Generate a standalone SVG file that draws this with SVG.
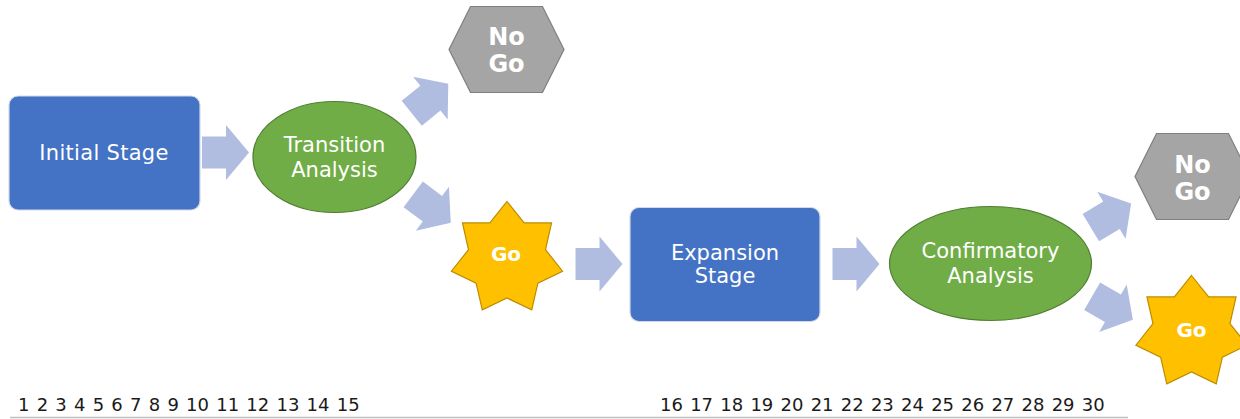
<svg xmlns="http://www.w3.org/2000/svg" width="1240" height="419" viewBox="0 0 1240 419">
  <style>
    .stage { fill: #4472C4; stroke: #D3D9E6; stroke-width: 1.2; }
    .analysis { fill: #70AD47; stroke: #507E32; stroke-width: 1.2; }
    .nogo { fill: #A5A5A5; stroke: #7F7F7F; stroke-width: 1.2; }
    .go { fill: #FFC000; stroke: #BC8C00; stroke-width: 1.2; }
    .flow { fill: #B0BDE0; }
    .label { fill: #FFFFFF; font-family: "DejaVu Sans", Verdana, sans-serif; font-size: 21px; text-anchor: middle; }
    .bold { fill: #FFFFFF; font-family: "DejaVu Sans", Verdana, sans-serif; font-weight: bold; text-anchor: middle; }
    .nums { fill: #1A1A1A; font-family: "DejaVu Sans", Verdana, sans-serif; font-size: 18px; word-spacing: 1.5px; }
  </style>
  <defs>
    <!-- block arrow pointing right, centred on the origin -->
    <path id="blockArrow" d="M-23.5,-16 H0.5 V-27.5 L23.5,0 L0.5,27.5 V16 H-23.5 Z"/>
    <!-- seven-pointed star, outer radius 57, inner radius 39.5 -->
    <path id="star7" d="M0,-57 L17.14,-35.59 L44.56,-35.54 L38.51,-8.79 L55.57,12.68 L30.88,24.63 L24.73,51.36 L0,39.5 L-24.73,51.36 L-30.88,24.63 L-55.57,12.68 L-38.51,-8.79 L-44.56,-35.54 L-17.14,-35.59 Z"/>
    <!-- flat hexagon -->
    <path id="hex" d="M-57.5,0 L-36,-43 L36,-43 L57.5,0 L36,43 L-36,43 Z"/>
  </defs>

  <g id="connectors" class="flow">
    <use href="#blockArrow" transform="translate(225.5,152.5)"/>
    <use href="#blockArrow" transform="translate(430,98.5) rotate(-39)"/>
    <use href="#blockArrow" transform="translate(432,208.5) rotate(37)"/>
    <use href="#blockArrow" transform="translate(599,264)"/>
    <use href="#blockArrow" transform="translate(856,264)"/>
    <use href="#blockArrow" transform="translate(1111,215.5) rotate(-31)"/>
    <use href="#blockArrow" transform="translate(1112.5,308) rotate(30)"/>
  </g>

  <g id="initial-stage">
    <rect class="stage" x="9" y="96" width="191" height="114" rx="9"/>
    <text class="label" x="104" y="160" letter-spacing="0.3">Initial Stage</text>
  </g>

  <g id="transition-analysis">
    <ellipse class="analysis" cx="334.5" cy="157" rx="81.5" ry="55.5"/>
    <text class="label" x="334.5" y="152">Transition</text>
    <text class="label" x="334.5" y="177">Analysis</text>
  </g>

  <g id="nogo-1">
    <use href="#hex" class="nogo" transform="translate(506.5,49.5)"/>
    <text class="bold" x="506.5" y="45" font-size="24">No</text>
    <text class="bold" x="506.5" y="72" font-size="24">Go</text>
  </g>

  <g id="go-1">
    <use href="#star7" class="go" transform="translate(507,258.5)"/>
    <text class="bold" x="506" y="261" font-size="20">Go</text>
  </g>

  <g id="expansion-stage">
    <rect class="stage" x="630" y="207.5" width="190" height="114" rx="9"/>
    <text class="label" x="725" y="260">Expansion</text>
    <text class="label" x="725" y="283">Stage</text>
  </g>

  <g id="confirmatory-analysis">
    <ellipse class="analysis" cx="990.5" cy="263.5" rx="101" ry="57"/>
    <text class="label" x="990.5" y="258">Confirmatory</text>
    <text class="label" x="990.5" y="283">Analysis</text>
  </g>

  <g id="nogo-2">
    <use href="#hex" class="nogo" transform="translate(1192.5,176.5)"/>
    <text class="bold" x="1192.5" y="173" font-size="24">No</text>
    <text class="bold" x="1192.5" y="200" font-size="24">Go</text>
  </g>

  <g id="go-2">
    <use href="#star7" class="go" transform="translate(1191.5,332.5)"/>
    <text class="bold" x="1191.5" y="337" font-size="20">Go</text>
  </g>

  <g id="timeline">
    <text class="nums" x="18" y="411">1 2 3 4 5 6 7 8 9 10 11 12 13 14 15</text>
    <text class="nums" x="660" y="411">16 17 18 19 20 21 22 23 24 25 26 27 28 29 30</text>
    <line x1="10" y1="417.5" x2="1128" y2="417.5" stroke="#BFBFBF" stroke-width="1.5"/>
  </g>
</svg>
